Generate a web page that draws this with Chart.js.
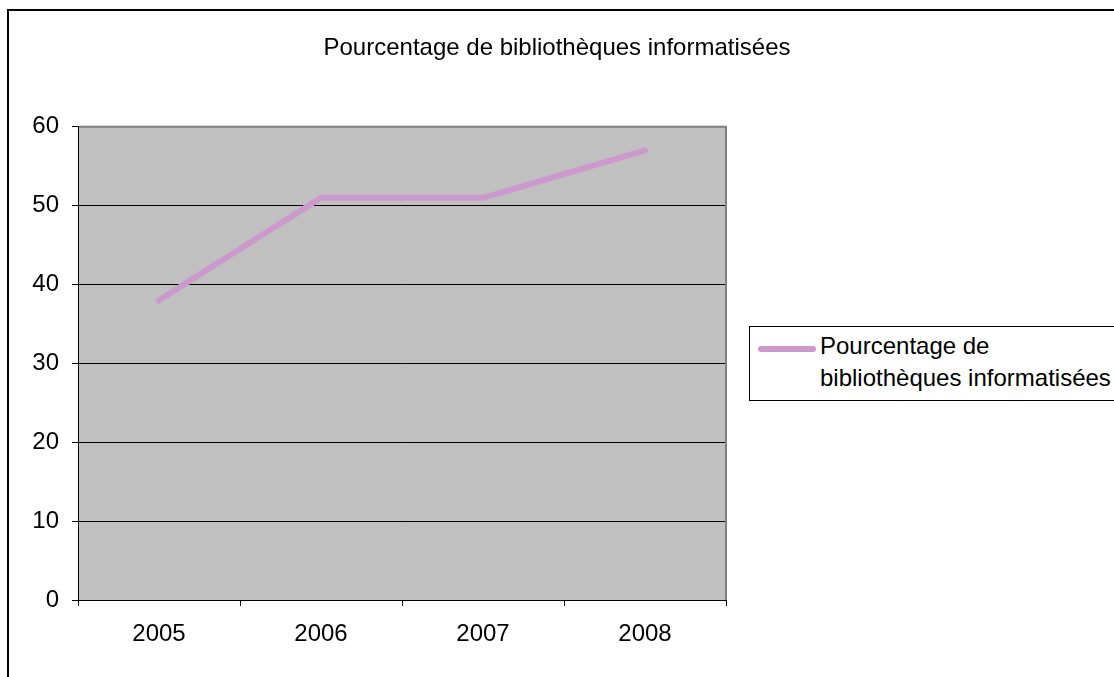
<!DOCTYPE html>
<html>
<head>
<meta charset="utf-8">
<script src="https://cdn.jsdelivr.net/npm/chart.js@4"></script>
<style>
    body { margin: 0; background: #fff; overflow: hidden; }
    #wrap { position: relative; width: 1114px; height: 677px; overflow: hidden; }
    #legend {
        position: absolute; left: 749px; top: 326px; width: 420px; height: 73px;
        border: 1px solid #000; background: #fff;
        font-family: "Liberation Sans", Arial, sans-serif; font-size: 24px; color: #000;
    }
    #legend .swatch {
        position: absolute; left: 8px; top: 19px; width: 58px; height: 6px;
        border-radius: 3px; background: #CC99CC;
    }
    #legend .label {
        position: absolute; left: 70px; top: 3px; line-height: 32px; white-space: nowrap;
    }
</style>
</head>
<body>
<div id="wrap">
    <canvas id="chart" width="1114" height="677"></canvas>
    <div id="legend">
        <div class="swatch"></div>
        <div class="label">Pourcentage de<br>bibliothèques informatisées</div>
    </div>
</div>
<script>
const years = ['2005', '2006', '2007', '2008'];
const pourcentages = [38, 51, 51, 57];
const titre = 'Pourcentage de bibliothèques informatisées';

Chart.defaults.font.family = '"Liberation Sans", Arial, sans-serif';
Chart.defaults.font.size = 24;
Chart.defaults.color = '#000';

// grey plot area, grey top/right border and the outer frame
const plotArea = {
    id: 'plotArea',
    beforeDraw(chart) {
        const a = chart.chartArea;
        const ctx = chart.ctx;
        ctx.save();
        ctx.fillStyle = '#C0C0C0';
        ctx.fillRect(a.left, a.top, a.right - a.left, a.bottom - a.top);
        ctx.restore();
    },
    afterDraw(chart) {
        const a = chart.chartArea;
        const ctx = chart.ctx;
        ctx.save();
        ctx.strokeStyle = '#808080';
        ctx.lineWidth = 2;
        ctx.beginPath();
        ctx.moveTo(a.left + 1, a.top);
        ctx.lineTo(a.right, a.top);
        ctx.lineTo(a.right, a.bottom);
        ctx.stroke();
        // outer frame
        ctx.strokeStyle = '#000';
        ctx.lineWidth = 2;
        ctx.strokeRect(8, 10, 2000, 2000);
        ctx.restore();
    }
};

new Chart(document.getElementById('chart'), {
    type: 'line',
    data: {
        labels: years,
        datasets: [{
            label: titre,
            data: pourcentages,
            borderColor: '#CC99CC',
            borderWidth: 6,
            borderCapStyle: 'round',
            borderJoinStyle: 'round',
            pointRadius: 0,
            tension: 0,
            fill: false
        }]
    },
    options: {
        responsive: false,
        animation: false,
        layout: { padding: 0 },
        plugins: {
            legend: { display: false },
            tooltip: { enabled: false },
            title: {
                display: true,
                text: titre,
                font: { size: 24, weight: 'normal' },
                color: '#000',
                padding: { top: 34, bottom: 64 }
            }
        },
        scales: {
            x: {
                offset: true,
                grid: {
                    offset: true,
                    drawOnChartArea: false,
                    color: '#000',
                    tickLength: 6
                },
                border: { color: '#000', width: 1 },
                ticks: { padding: 14, maxRotation: 0 },
                afterFit(scale) { scale.height = 77; }
            },
            y: {
                min: 0,
                max: 60,
                ticks: { stepSize: 10, padding: 13 },
                grid: { color: '#000', tickLength: 6 },
                border: { color: '#000', width: 1 },
                afterFit(scale) { scale.width = 78; }
            },
            // empty right axis, keeps room for the legend
            yRight: {
                position: 'right',
                min: 0,
                max: 60,
                ticks: { display: false },
                grid: { display: false },
                border: { display: false },
                afterFit(scale) { scale.width = 388; }
            }
        }
    },
    plugins: [plotArea]
});
</script>
</body>
</html>
